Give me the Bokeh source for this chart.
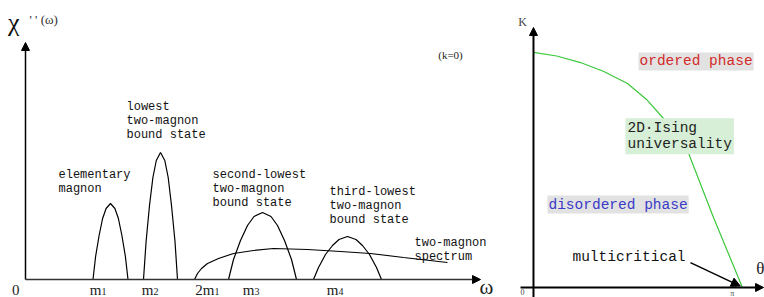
from bokeh.plotting import figure
from bokeh.layouts import row
from bokeh.models import Arrow, NormalHead, Range1d
from bokeh.core.properties import value
from bokeh.embed import file_html
from bokeh.resources import INLINE

# ---------------- left panel data (omega, chi'') ----------------
peak1_w = [6.75, 7.01, 7.36, 7.71, 8.06, 8.5, 8.94, 9.29, 9.64, 9.99, 10.25]
peak1_c = [0, 2.3, 4.4, 6.1, 7.1, 7.6, 7.1, 6.1, 4.4, 2.3, 0]
peak2_w = [11.8, 12.06, 12.4, 12.74, 13.08, 13.5, 13.93, 14.27, 14.6, 14.95, 15.2]
peak2_c = [0, 3.8, 7.4, 10.2, 11.9, 12.7, 11.9, 10.2, 7.4, 3.8, 0]
peak3_w = [20.3, 20.8, 21.5, 22.2, 22.85, 23.7, 24.55, 25.2, 25.9, 26.6, 27.1]
peak3_c = [0, 2.0, 3.9, 5.4, 6.3, 6.7, 6.3, 5.4, 3.9, 2.0, 0]
peak4_w = [28.8, 29.3, 30.0, 30.7, 31.35, 32.2, 33.05, 33.7, 34.4, 35.1, 35.6]
peak4_c = [0, 1.2, 2.5, 3.4, 4.0, 4.3, 4.0, 3.4, 2.5, 1.2, 0]
cont_w = [16.9, 17.2, 17.6, 18.2, 19.3, 20.8, 22.8, 24.8, 28.2, 31.5, 34.5, 37.8, 42.2]
cont_c = [0, 0.6, 1.1, 1.6, 2.1, 2.6, 2.9, 3.1, 3.0, 2.8, 2.6, 2.2, 1.7]

# tick labels: main part and small index, split at the tick position
tick_main = ["0", "m", "m", "2m", "m", "m"]
tick_index = ["", "1", "2", "1", "3", "4"]
tick_pos = [-0.6, 7.6, 12.8, 18.9, 22.9, 31.3]

note_text = ["elementary\nmagnon", "lowest\ntwo-magnon\nbound state",
             "second-lowest\ntwo-magnon\nbound state",
             "third-lowest\ntwo-magnon\nbound state", "two-magnon\nspectrum"]
note_x = [3.3, 10.1, 18.7, 30.4, 38.9]
note_y = [11.2, 18.0, 11.2, 9.5, 4.4]

omega_axis_end = 45.5
chi_axis_end = 23.7

# ---------------- right panel data (theta, K) ----------------
crit_theta = [0.0, 0.35, 0.707, 1.05, 1.414, 1.70, 1.955, 2.316, 2.707, 3.142]
crit_K = [1.0, 0.985, 0.957, 0.92, 0.868, 0.80, 0.719, 0.583, 0.298, 0.0]
theta_axis = [-0.195, 3.46]
K_axis = [-0.05, 1.106]
theta_ticks = ["0", "π"]
theta_tick_pos = [-0.165, 2.99]

mono = value("Liberation Mono")
serif = value("Liberation Serif")

# ---------------- left figure ----------------
p1 = figure(width=500, height=297, x_range=Range1d(-2.5, 47.5), y_range=Range1d(-1.8, 27.9),
            output_backend="svg", toolbar_location=None, x_axis_location=None,
            y_axis_location=None, min_border=0)
p1.grid.visible = False
p1.outline_line_color = None

for xs, ys in [(peak1_w, peak1_c), (peak2_w, peak2_c), (peak3_w, peak3_c),
               (peak4_w, peak4_c), (cont_w, cont_c)]:
    p1.line(xs, ys, line_color="black", line_width=1.2)

p1.add_layout(Arrow(end=NormalHead(size=8, fill_color="black", line_color="black"),
                    x_start=0, y_start=0, x_end=0, y_end=chi_axis_end,
                    line_color="black", line_width=1.5))
p1.add_layout(Arrow(end=NormalHead(size=8, fill_color="black", line_color="black"),
                    x_start=0, y_start=0, x_end=omega_axis_end, y_end=0,
                    line_color="#333333", line_width=1.5))

p1.text(x=tick_pos, y=[-1.0] * len(tick_pos), text=tick_main, text_font=serif,
        text_font_size="15px", text_align="right", text_baseline="middle", text_color="#222222")
p1.text(x=tick_pos, y=[-1.2] * len(tick_pos), text=tick_index, text_font=serif,
        text_font_size="10px", text_align="left", text_baseline="middle", text_color="#222222")
p1.text(x=[46.1], y=[-0.7], text=["ω"], text_font=serif, text_font_size="21px",
        text_align="center", text_baseline="middle", text_color="#222222")
p1.text(x=note_x, y=note_y, text=note_text, text_font=mono, text_font_size="12px",
        text_baseline="top", text_line_height=1.0, text_color="#111111")
p1.text(x=[-1.75], y=[25.7], text=["χ"], text_font=serif, text_font_size="26px",
        text_baseline="middle", text_color="#111111")
p1.text(x=[0.4], y=[26.0], text=["' '  (ω)"], text_font=serif, text_font_size="13px",
        text_baseline="middle", text_color="#333333")
p1.text(x=[42.5], y=[22.5], text=["(k=0)"], text_font=serif, text_font_size="11px",
        text_align="center", text_baseline="middle", text_color="#222222")

# ---------------- right figure ----------------
p2 = figure(width=264, height=297, x_range=Range1d(-0.496, 3.474), y_range=Range1d(-0.0426, 1.221),
            output_backend="svg", toolbar_location=None, x_axis_location=None,
            y_axis_location=None, min_border=0)
p2.grid.visible = False
p2.outline_line_color = None

p2.line(crit_theta, crit_K, line_color="#3cc83c", line_width=1.2)
p2.add_layout(Arrow(end=NormalHead(size=8, fill_color="black", line_color="black"),
                    x_start=0, y_start=K_axis[0], x_end=0, y_end=K_axis[1],
                    line_color="black", line_width=2))
p2.add_layout(Arrow(end=NormalHead(size=8, fill_color="black", line_color="black"),
                    x_start=theta_axis[0], y_start=0, x_end=theta_axis[1], y_end=0,
                    line_color="black", line_width=2))
p2.add_layout(Arrow(end=NormalHead(size=9, fill_color="black", line_color="black"),
                    x_start=2.36, y_start=0.106, x_end=3.11, y_end=0.006,
                    line_color="black", line_width=1.5))

p2.text(x=[1.579], y=[0.962], text=["ordered phase"], text_font=mono, text_font_size="14.5px",
        text_baseline="middle", text_color="#d42a2a", background_fill_color="#e2e2e2", padding=1)
p2.text(x=[1.383], y=[0.72], text=["2D·Ising\nuniversality"], text_font=mono,
        text_font_size="14.5px", text_baseline="top", text_line_height=1.0,
        text_color="#222222", background_fill_color="#d6efd6", padding=2)
p2.text(x=[0.21], y=[0.353], text=["disordered phase"], text_font=mono, text_font_size="14.5px",
        text_baseline="middle", text_color="#3a3ac8", background_fill_color="#e2e2e2", padding=1)
p2.text(x=[0.586], y=[0.128], text=["multicritical"], text_font=mono, text_font_size="14.5px",
        text_baseline="middle", text_color="#111111")
p2.text(x=[-0.165], y=[1.128], text=["K"], text_font=serif, text_font_size="12px",
        text_align="center", text_baseline="middle", text_color="#444444")
p2.text(x=[3.41], y=[0.081], text=["θ"], text_font=serif, text_font_size="17px",
        text_align="center", text_baseline="middle", text_color="#222222")
p2.text(x=theta_tick_pos, y=[-0.006] * len(theta_tick_pos), text=theta_ticks, text_font=serif,
        text_font_size="8px", text_align="center", text_baseline="top", text_color="#444444")

layout = row(p1, p2, spacing=0)
open("out.html", "w").write(file_html(layout, INLINE))
